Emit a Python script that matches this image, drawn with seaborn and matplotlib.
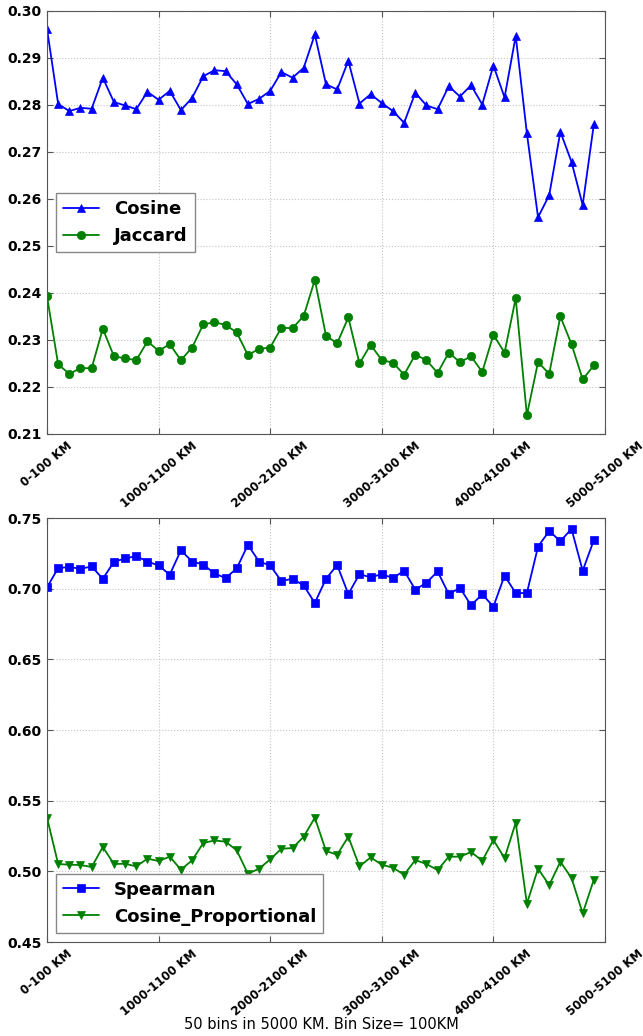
import numpy as np
import pandas as pd
import matplotlib
matplotlib.use("Agg")
import matplotlib.pyplot as plt
import seaborn as sns

# values, one per 100 KM bin (50 bins)
cosine = [0.2962, 0.2802, 0.2787, 0.2794, 0.2792, 0.2858, 0.2806, 0.2799, 0.2791, 0.2828,
          0.2811, 0.2830, 0.2789, 0.2815, 0.2861, 0.2874, 0.2872, 0.2844, 0.2802, 0.2813,
          0.2830, 0.2870, 0.2858, 0.2879, 0.2950, 0.2844, 0.2833, 0.2894, 0.2803, 0.2823,
          0.2804, 0.2787, 0.2762, 0.2826, 0.2799, 0.2791, 0.2840, 0.2818, 0.2842, 0.2801,
          0.2884, 0.2816, 0.2947, 0.2740, 0.2561, 0.2608, 0.2743, 0.2679, 0.2587, 0.2759]
jaccard = [0.2393, 0.2248, 0.2228, 0.2240, 0.2240, 0.2324, 0.2265, 0.2261, 0.2257, 0.2297,
           0.2277, 0.2291, 0.2257, 0.2284, 0.2333, 0.2338, 0.2332, 0.2316, 0.2268, 0.2281,
           0.2284, 0.2326, 0.2325, 0.2351, 0.2428, 0.2309, 0.2293, 0.2348, 0.2250, 0.2290,
           0.2257, 0.2252, 0.2226, 0.2269, 0.2257, 0.2230, 0.2273, 0.2253, 0.2265, 0.2232,
           0.2311, 0.2273, 0.2389, 0.2140, 0.2253, 0.2228, 0.2350, 0.2291, 0.2216, 0.2246]
spearman = [0.7009, 0.7146, 0.7153, 0.7141, 0.7157, 0.7070, 0.7190, 0.7214, 0.7230, 0.7192,
            0.7164, 0.7099, 0.7272, 0.7192, 0.7171, 0.7108, 0.7075, 0.7143, 0.7310, 0.7192,
            0.7164, 0.7054, 0.7070, 0.7023, 0.6899, 0.7070, 0.7167, 0.6962, 0.7103, 0.7080,
            0.7103, 0.7075, 0.7127, 0.6993, 0.7042, 0.7122, 0.6962, 0.7005, 0.6883, 0.6960,
            0.6873, 0.7092, 0.6969, 0.6969, 0.7298, 0.7408, 0.7336, 0.7423, 0.7127, 0.7343]
cosine_prop = [0.5380, 0.5052, 0.5047, 0.5045, 0.5031, 0.5172, 0.5052, 0.5054, 0.5035, 0.5090,
               0.5073, 0.5104, 0.5012, 0.5078, 0.5200, 0.5219, 0.5210, 0.5149, 0.4983, 0.5019,
               0.5085, 0.5160, 0.5165, 0.5245, 0.5380, 0.5144, 0.5118, 0.5245, 0.5035, 0.5099,
               0.5047, 0.5026, 0.4976, 0.5080, 0.5052, 0.5009, 0.5104, 0.5104, 0.5137, 0.5075,
               0.5222, 0.5094, 0.5344, 0.4771, 0.5019, 0.4903, 0.5068, 0.4953, 0.4703, 0.4941]

tick_bins = [0, 10, 20, 30, 40, 50]
tick_labels = ["0-100 KM", "1000-1100 KM", "2000-2100 KM",
               "3000-3100 KM", "4000-4100 KM", "5000-5100 KM"]
top_yticks = [0.21, 0.22, 0.23, 0.24, 0.25, 0.26, 0.27, 0.28, 0.29, 0.30]
bot_yticks = [0.45, 0.50, 0.55, 0.60, 0.65, 0.70, 0.75]
x_label = "50 bins in 5000 KM. Bin Size= 100KM"

sns.set_style("whitegrid", {"grid.linestyle": ":", "grid.color": "#c4c4c4",
                            "axes.edgecolor": "#555555", "text.color": "black",
                            "xtick.color": "black", "ytick.color": "black",
                            "axes.labelcolor": "black"})
plt.rcParams["font.family"] = ["DejaVu Sans"]

bins = np.arange(len(cosine))
df_top = pd.DataFrame({"bin": bins, "Cosine": cosine, "Jaccard": jaccard})
df_bot = pd.DataFrame({"bin": bins, "Spearman": spearman, "Cosine_Proportional": cosine_prop})

fig = plt.figure(figsize=(6.43, 10.36), dpi=100)
ax1 = fig.add_axes([0.0731, 0.5811, 0.8678, 0.4083])
ax2 = fig.add_axes([0.0731, 0.0907, 0.8678, 0.4093])


def draw(ax, df, specs, ylim, yticks, loc):
    for name, color, marker in specs:
        sns.lineplot(data=df, x="bin", y=name, ax=ax, color=color, marker=marker,
                     markersize=6, markeredgecolor=color, markeredgewidth=0.5,
                     linewidth=1.3, label=name)
    ax.set_xlim(0, 50)
    ax.set_ylim(*ylim)
    ax.set_xticks(tick_bins)
    ax.set_xticklabels(tick_labels, rotation=40, fontsize=8.5, fontweight="bold",
                       color="black")
    ax.set_yticks(yticks)
    ax.set_yticklabels(["%.2f" % v for v in yticks], fontsize=10,
                       fontweight="bold", color="black")
    ax.set_xlabel("")
    ax.set_ylabel("")
    ax.tick_params(direction="in", length=4, width=0.8, color="#555555",
                   top=True, right=True, bottom=True, left=True, pad=4)
    leg = ax.legend(loc=loc, fancybox=False, framealpha=1, edgecolor="#888888",
                    prop={"weight": "bold", "size": 13}, borderaxespad=0.5)
    leg.get_frame().set_linewidth(1.0)
    for t in leg.get_texts():
        t.set_color("black")


draw(ax1, df_top, [("Cosine", "#0000ff", "^"), ("Jaccard", "#008000", "o")],
     (0.21, 0.30), top_yticks, "center left")
draw(ax2, df_bot, [("Spearman", "#0000ff", "s"), ("Cosine_Proportional", "#008000", "v")],
     (0.45, 0.75), bot_yticks, "lower left")

ax2.set_xlabel(x_label, fontsize=10.5, color="black")
ax2.xaxis.set_label_coords(0.492, -0.176)

fig.savefig("out.png", dpi=100)
